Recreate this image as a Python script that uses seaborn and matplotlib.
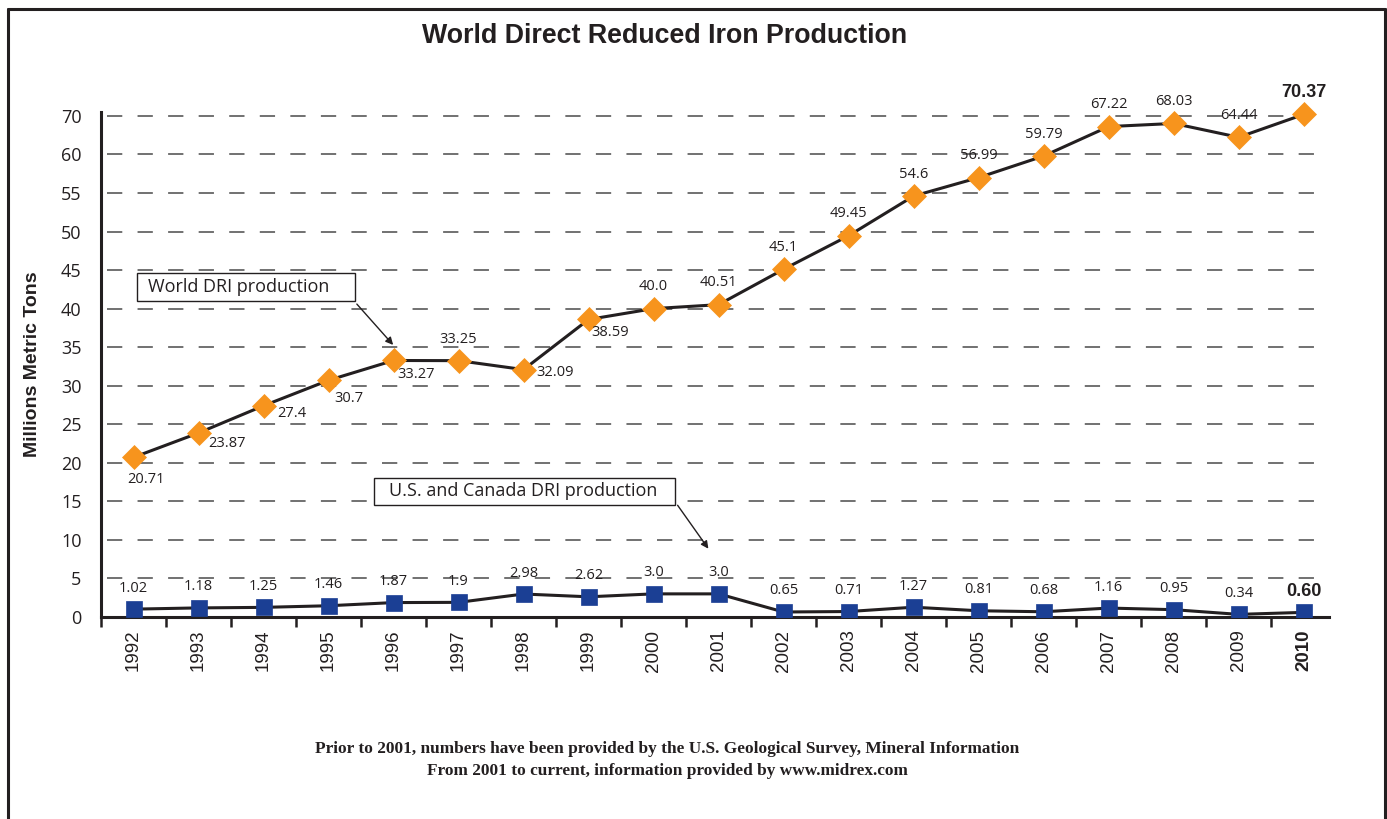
import numpy as np
import pandas as pd
import matplotlib
matplotlib.use("Agg")
import matplotlib.pyplot as plt
import seaborn as sns
from matplotlib.patches import Rectangle, FancyArrowPatch
from matplotlib.lines import Line2D

# ---------------- data ----------------
years = ["1992", "1993", "1994", "1995", "1996", "1997", "1998", "1999", "2000",
         "2001", "2002", "2003", "2004", "2005", "2006", "2007", "2008", "2009", "2010"]
world = [20.71, 23.87, 27.4, 30.7, 33.27, 33.25, 32.09, 38.59, 40.0, 40.51,
         45.1, 49.45, 54.6, 56.99, 59.79, 67.22, 68.03, 64.44, 70.37]
world_labels = ["20.71", "23.87", "27.4", "30.7", "33.27", "33.25", "32.09", "38.59", "40.0",
                "40.51", "45.1", "49.45", "54.6", "56.99", "59.79", "67.22", "68.03", "64.44", "70.37"]
us = [1.02, 1.18, 1.25, 1.46, 1.87, 1.9, 2.98, 2.62, 3.0, 3.0,
      0.65, 0.71, 1.27, 0.81, 0.68, 1.16, 0.95, 0.34, 0.60]
us_labels = ["1.02", "1.18", "1.25", "1.46", "1.87", "1.9", "2.98", "2.62", "3.0", "3.0",
             "0.65", "0.71", "1.27", "0.81", "0.68", "1.16", "0.95", "0.34", "0.60"]
y_ticks = [0, 5, 10, 15, 20, 25, 30, 35, 40, 45, 50, 55, 60, 70]
y_tick_labels = [str(t) for t in y_ticks]

# label offsets in pixels (dx, dy up) for world labels
world_off = [(12, -22), (28, -11), (28, -8), (20, -18), (23, -14), (0, 21), (32, -3),
             (22, -13)] + [(0, 22)] * 11

# ---------------- figure ----------------
sns.set_style("white")
W, H = 1387, 819
fig = plt.figure(figsize=(W / 100, H / 100), dpi=100)


def fx(px):
    return px / W


def fy(py):
    return 1 - py / H


ax = fig.add_axes([fx(101), fy(617), fx(1329) - fx(101), fy(112) - fy(617)])


def fwd(y):
    y = np.asarray(y, float)
    return np.where(y <= 60, y, 60 + (y - 60) / 2)


def inv(y):
    y = np.asarray(y, float)
    return np.where(y <= 60, y, 60 + (y - 60) * 2)


ax.set_yscale("function", functions=(fwd, inv))

df = pd.DataFrame({"pos": np.arange(len(years)), "world": world, "us": us})

dark = "#231F20"
orange = "#F7941D"
blue = "#1B3F94"

for t in y_ticks[1:]:
    ax.axhline(t, xmin=0.005, xmax=1, color="#4a4a4a", lw=1.1, ls=(0, (10, 10)), zorder=0.5)

sns.lineplot(data=df, x="pos", y="world", ax=ax, color=dark, lw=2.2, marker="D",
             markersize=12.5, markerfacecolor=orange, markeredgecolor=orange,
             markeredgewidth=0.5, zorder=3, clip_on=False)
sns.lineplot(data=df, x="pos", y="us", ax=ax, color=dark, lw=2.2, marker="s",
             markersize=11.5, markerfacecolor=blue, markeredgecolor=blue,
             markeredgewidth=0.5, zorder=3)

ax.set_xlim(-0.5, 18.39)
ax.set_ylim(0, 71)

# data labels
lab_font = "Open Sans"
for i, (v, s) in enumerate(zip(world, world_labels)):
    dx, dy = world_off[i]
    last = i == len(world) - 1
    ax.annotate(s, (i, v), xytext=(dx * 0.72, dy * 0.72), textcoords="offset points",
                ha="center", va="center", color=dark,
                fontsize=13 if last else 10.5,
                fontweight="bold" if last else "normal",
                family="Liberation Sans" if last else lab_font)
for i, (v, s) in enumerate(zip(us, us_labels)):
    last = i == len(us) - 1
    ax.annotate(s, (i, v), xytext=(0, 21 * 0.72), textcoords="offset points",
                ha="center", va="center", color=dark,
                fontsize=13 if last else 10.5,
                fontweight="bold" if last else "normal",
                family="Liberation Sans" if last else lab_font)

# axes styling
for sp in ["top", "right"]:
    ax.spines[sp].set_visible(False)
for sp in ["left", "bottom"]:
    ax.spines[sp].set_linewidth(2.2)
    ax.spines[sp].set_color(dark)

ax.set_xticks(np.arange(len(years)))
ax.set_xticklabels(years, rotation=90, fontsize=13.5, family="Liberation Sans", color=dark)
ax.get_xticklabels()[-1].set_fontweight("bold")
ax.set_xticks(np.arange(-0.5, len(years) - 1), minor=True)
ax.tick_params(axis="x", which="major", length=0, pad=9)
ax.tick_params(axis="x", which="minor", length=7, width=1.8, color=dark, direction="out", bottom=True)

ax.set_yticks(y_ticks)
ax.set_yticklabels(y_tick_labels, fontsize=13, family=lab_font, color=dark)
ax.set_yticks([], minor=True)
ax.tick_params(axis="y", which="major", length=0, pad=14)
ax.set_xlabel("")
ax.set_ylabel("")

fig.text(fx(33), fy(364), "Millions Metric Tons", rotation=90, ha="center", va="center",
         fontsize=14, fontweight="bold", family="Liberation Sans", color=dark)

fig.text(fx(665), fy(36), "World Direct Reduced Iron Production", ha="center", va="center",
         fontsize=19.3, fontweight="bold", family="Liberation Sans", color=dark)

# annotation boxes
fig.add_artist(Rectangle((fx(137), fy(301)), fx(355) - fx(137), fy(273) - fy(301),
                         transform=fig.transFigure, fill=True, fc="white", ec=dark, lw=1, zorder=5))
fig.text(fx(148), fy(287), "World DRI production", ha="left", va="center",
         fontsize=13, family=lab_font, color=dark, zorder=6)
fig.add_artist(FancyArrowPatch((fx(355), fy(302)), (fx(395), fy(347)), transform=fig.transFigure,
                               arrowstyle="-|>", mutation_scale=11, lw=1, color=dark, zorder=6))

fig.add_artist(Rectangle((fx(374), fy(505)), fx(675) - fx(374), fy(478) - fy(505),
                         transform=fig.transFigure, fill=True, fc="white", ec=dark, lw=1, zorder=5))
fig.text(fx(389), fy(491), "U.S. and Canada DRI production", ha="left", va="center",
         fontsize=13, family=lab_font, color=dark, zorder=6)
fig.add_artist(FancyArrowPatch((fx(676), fy(503)), (fx(710), fy(551)), transform=fig.transFigure,
                               arrowstyle="-|>", mutation_scale=11, lw=1, color=dark, zorder=6))

# footnote
fig.text(fx(667), fy(749), "Prior to 2001, numbers have been provided by the U.S. Geological Survey, Mineral Information",
         ha="center", va="center", fontsize=12.4, fontweight="bold", family="Liberation Serif", color=dark)
fig.text(fx(667), fy(771), "From 2001 to current, information provided by www.midrex.com",
         ha="center", va="center", fontsize=12.4, fontweight="bold", family="Liberation Serif", color=dark)

# page border (left, top, right)
for xs, ys in [([fx(8), fx(8)], [0, fy(9)]),
               ([fx(8), fx(1385)], [fy(9), fy(9)]),
               ([fx(1385), fx(1385)], [fy(9), 0])]:
    fig.add_artist(Line2D(xs, ys, transform=fig.transFigure, color=dark, lw=2.2))

fig.savefig("out.png", dpi=100)
